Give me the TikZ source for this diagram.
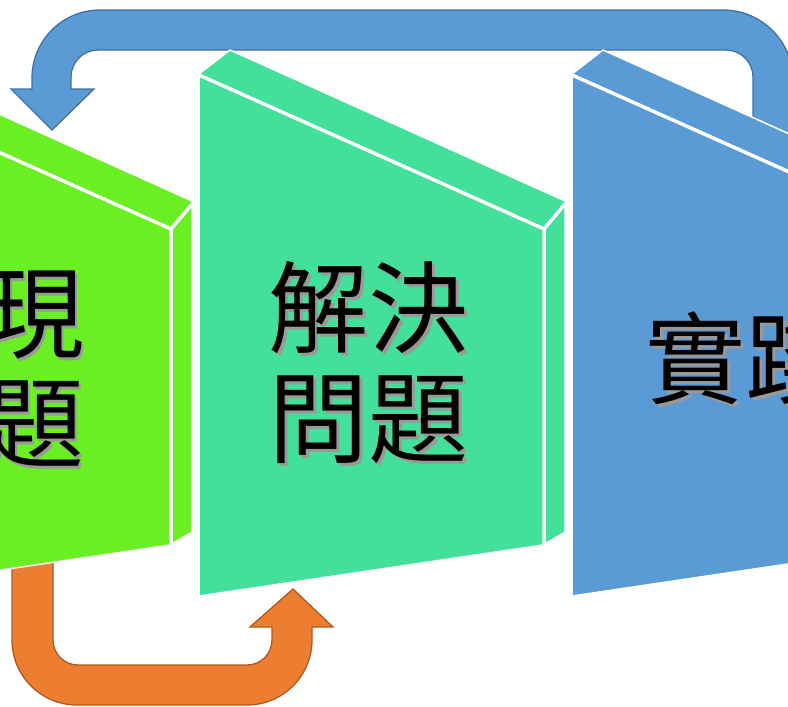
\documentclass[tikz,border=0pt]{standalone}
\usepackage{fontspec}
\newfontfamily\cjk{Noto Sans CJK TC}
\definecolor{panelgreen}{HTML}{69EF22}
\definecolor{panelteal}{HTML}{42E09A}
\definecolor{panelblue}{HTML}{5B9BD5}
\definecolor{backblue}{HTML}{5B9BD5}
\definecolor{backline}{HTML}{41719C}
\definecolor{forwardorange}{HTML}{ED7D31}
\definecolor{forwardline}{HTML}{AE5A21}
\tikzset{
  panel/.style={draw=white, line width=1.5pt, line join=round},
  rim/.style={white, line width=3.5pt, line join=bevel},
  backarrow/.style={fill=backblue, draw=backline, line width=1.3pt},
  forwardarrow/.style={fill=forwardorange, draw=forwardline, line width=1.3pt},
  word/.style={font=\cjk\fontsize{100}{110}\selectfont, align=center, inner sep=0pt},
  wordshadow/.style={word, text=black!40}
}
\begin{document}
\begin{tikzpicture}[x=1pt,y=-1pt]
\useasboundingbox (0,0) rectangle (788,707);
\clip (0,0) rectangle (788,707);
% arrows behind the panels
\filldraw[backarrow] (11,89) -- (52,130) -- (94,89) -- (71,89) -- (71,77) arc[start angle=180,end angle=270,radius=27] -- (726,50) arc[start angle=270,end angle=360,radius=27] -- (753,140) -- (793,140) -- (793,80) arc[start angle=0,end angle=-90,radius=70] -- (100,10) arc[start angle=270,end angle=180,radius=68] -- (32,89) -- cycle;
\filldraw[forwardarrow] (12,560) -- (12,640) arc[start angle=180,end angle=90,radius=65] -- (247,705) arc[start angle=90,end angle=0,radius=65] -- (312,627) -- (333,627) -- (293,589) -- (250,627) -- (272,627) -- (272,640) arc[start angle=0,end angle=90,radius=25] -- (78,665) arc[start angle=90,end angle=180,radius=25] -- (53,560) -- cycle;
% panels
\filldraw[panel, fill=panelgreen] (-174,596) -- (-174,74) -- (-143,50) -- (192,201) -- (192,532) -- (170,545) -- cycle;
\draw[rim] (-174,75) -- (171,229) -- (171,545);
\draw[rim] (171,229) -- (192,204);
\filldraw[panel, fill=panelteal] (199,596) -- (199,74) -- (230,50) -- (565,201) -- (565,532) -- (543,545) -- cycle;
\draw[rim] (199,75) -- (544,229) -- (544,545);
\draw[rim] (544,229) -- (565,204);
\filldraw[panel, fill=panelblue] (572,596) -- (572,74) -- (603,50) -- (938,201) -- (938,532) -- (916,545) -- cycle;
\draw[rim] (572,75) -- (917,229) -- (917,545);
\draw[rim] (917,229) -- (938,204);
% labels
\node[wordshadow] (discover shadow) at (37,373) {現\\題};
\node[word] (discover) at (34,370) {現\\題};
\node[wordshadow] (solve shadow) at (371,366) {解決\\問題};
\node[word] (solve) at (368,363) {解決\\問題};
\node[wordshadow] (practice shadow) at (748,361) {實踐};
\node[word] (practice) at (745,358) {實踐};
\end{tikzpicture}
\end{document}
